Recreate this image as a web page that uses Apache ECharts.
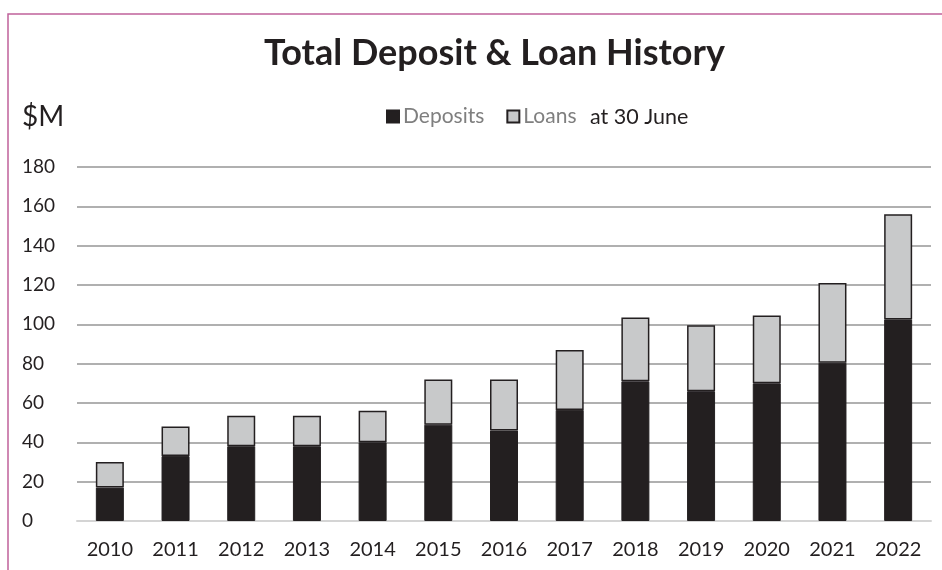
<!DOCTYPE html>
<html>
<head>
<meta charset="utf-8">
<script src="https://cdn.jsdelivr.net/npm/echarts@6/dist/echarts.min.js"></script>
<style>
html,body{margin:0;padding:0;background:#fff;}
#chart{width:942px;height:570px;}
</style>
</head>
<body>
<div id="chart"></div>
<script>
const years = ['2010','2011','2012','2013','2014','2015','2016','2017','2018','2019','2020','2021','2022'];
const deposits = [17, 33, 38, 38, 40, 49, 46, 56.5, 71, 66, 70, 80.5, 102.5];
const loans = [13, 15, 15.5, 15.5, 16, 23, 26, 30.5, 32.5, 33.5, 34.5, 40.5, 53.5];
const yTicks = [0, 20, 40, 60, 80, 100, 120, 140, 160, 180];

const FONT = 'Lato';
const chart = echarts.init(document.getElementById('chart'));
chart.setOption({
  animation: false,
  backgroundColor: '#ffffff',
  textStyle: { fontFamily: FONT },
  title: {
    text: 'Total Deposit & Loan History',
    left: 264,
    top: 35,
    padding: 0,
    textStyle: { fontFamily: FONT, fontWeight: 'bold', fontSize: 36, color: '#231f20' }
  },
  legend: {
    left: 386,
    top: 106,
    padding: 0,
    itemWidth: 12,
    itemHeight: 12,
    itemGap: 22,
    icon: 'rect',
    textStyle: { fontFamily: FONT, fontSize: 21, color: '#7f7f7f', padding: [0, 0, 0, -1] },
    data: ['Deposits', 'Loans']
  },
  graphic: [
    {
      type: 'rect',
      shape: { x: 8, y: 14, width: 1200, height: 1000 },
      style: { fill: 'none', stroke: '#c0619b', lineWidth: 1.5 },
      silent: true
    },
    {
      type: 'text',
      left: 590,
      top: 106,
      style: { text: 'at 30 June', fontFamily: FONT, fontSize: 21.5, fill: '#231f20' }
    },
    {
      type: 'text',
      left: 22,
      top: 103,
      style: { text: '$M', fontFamily: FONT, fontSize: 28, fill: '#231f20' }
    }
  ],
  grid: { left: 77, right: 11, top: 167, bottom: 49 },
  xAxis: {
    type: 'category',
    data: years,
    axisLine: { show: true, lineStyle: { color: '#d4d4d4', width: 2 } },
    axisTick: { show: false },
    axisLabel: { fontFamily: FONT, fontSize: 20, color: '#231f20', margin: 19 }
  },
  yAxis: {
    type: 'value',
    min: yTicks[0],
    max: yTicks[yTicks.length - 1],
    interval: 20,
    axisLine: { show: false },
    axisTick: { show: false },
    axisLabel: { fontFamily: FONT, fontSize: 19, color: '#231f20', align: 'left', margin: 55 },
    splitLine: { lineStyle: { color: '#969696', width: 1.5 } }
  },
  series: [
    {
      name: 'Deposits',
      type: 'bar',
      stack: 'total',
      barWidth: 28,
      data: deposits,
      itemStyle: { color: '#231f20', borderColor: '#231f20', borderWidth: 1 }
    },
    {
      name: 'Loans',
      type: 'bar',
      stack: 'total',
      barWidth: 28,
      data: loans,
      itemStyle: { color: '#c8c9ca', borderColor: '#231f20', borderWidth: 1.5 }
    }
  ]
});
</script>
</body>
</html>
